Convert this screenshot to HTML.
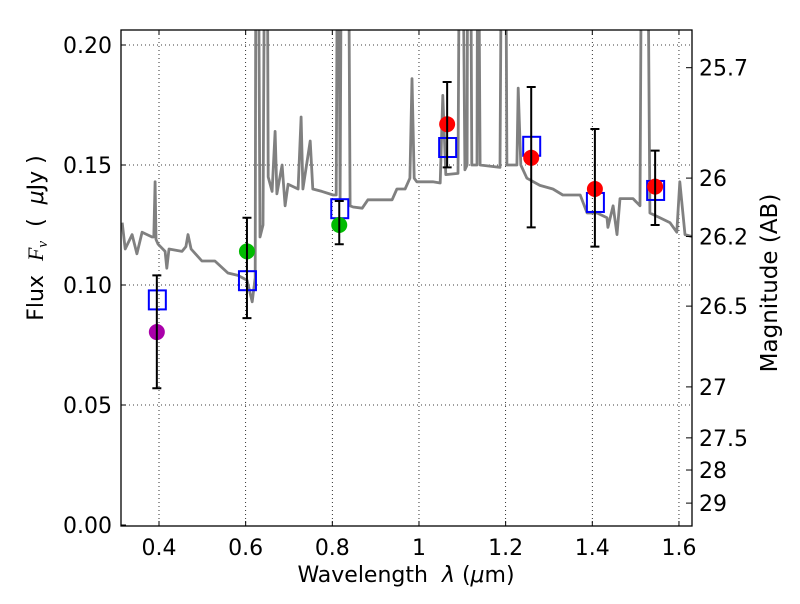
<!DOCTYPE html>
<html><head><meta charset="utf-8"><style>
body{margin:0;background:#fff;font-family:"DejaVu Sans","Liberation Sans",sans-serif;}
svg text{font-family:"DejaVu Sans","Liberation Sans",sans-serif;}
</style></head><body>
<svg id="chart" width="800" height="600" xmlns="http://www.w3.org/2000/svg">
<rect width="800" height="600" fill="#fff"/>
<defs><clipPath id="clip"><rect x="121" y="30" width="571" height="496"/></clipPath></defs>
<g id="grid"></g>
<g id="spec" clip-path="url(#clip)"></g>
<g id="marks"></g>
<rect x="121" y="30" width="571" height="496" fill="none" stroke="#000" stroke-width="1.3"/>
<g id="axes"></g>
<text x="406" y="582" font-size="22" text-anchor="middle">Wavelength&#160;&#160;<tspan font-style="italic">λ</tspan> (<tspan font-style="italic">μ</tspan>m)</text>
<text transform="translate(43,238) rotate(-90)" font-size="22" text-anchor="middle">Flux&#160;&#160;<tspan font-family="Liberation Serif" font-style="italic">F<tspan font-size="15" dy="4">ν</tspan></tspan><tspan dy="-4">&#160;&#160;(&#160;&#160;</tspan><tspan font-style="italic">μ</tspan>Jy )</text>
<text transform="translate(777,283) rotate(-90)" font-size="23" text-anchor="middle">Magnitude (AB)</text>
</svg>
<script>
const specLam=[0.315,0.322,0.338,0.349,0.361,0.384,0.388,0.391,0.393,0.398,0.414,0.418,0.423,0.453,0.462,0.467,0.474,0.499,0.529,0.559,0.582,0.603,0.615,0.622,0.624,0.628,0.633,0.640,0.645,0.649,0.652,0.661,0.668,0.672,0.684,0.691,0.698,0.721,0.728,0.732,0.749,0.755,0.776,0.802,0.809,0.813,0.818,0.822,0.829,0.836,0.841,0.848,0.869,0.882,0.915,0.938,0.949,0.968,0.979,0.984,0.989,0.995,1.032,1.049,1.055,1.062,1.090,1.095,1.099,1.106,1.111,1.113,1.118,1.122,1.134,1.136,1.141,1.187,1.192,1.199,1.203,1.226,1.229,1.235,1.249,1.279,1.309,1.332,1.372,1.388,1.411,1.434,1.436,1.448,1.457,1.464,1.494,1.510,1.515,1.526,1.533,1.556,1.579,1.595,1.602,1.614,1.633];
const specFlux=[0.126,0.115,0.121,0.113,0.122,0.120,0.120,0.143,0.119,0.117,0.114,0.107,0.115,0.114,0.116,0.121,0.115,0.110,0.110,0.105,0.104,0.102,0.093,0.103,0.3,0.3,0.120,0.125,0.3,0.3,0.145,0.139,0.164,0.138,0.150,0.133,0.142,0.140,0.170,0.140,0.160,0.140,0.139,0.1375,0.1375,0.3,0.136,0.3,0.3,0.3,0.133,0.1325,0.132,0.1355,0.1355,0.1355,0.140,0.140,0.1445,0.186,0.1445,0.143,0.143,0.1425,0.179,0.146,0.1465,0.3,0.3,0.148,0.150,0.3,0.3,0.150,0.150,0.3,0.150,0.149,0.3,0.3,0.150,0.150,0.182,0.150,0.1445,0.1415,0.140,0.1375,0.1375,0.130,0.130,0.128,0.124,0.133,0.121,0.136,0.136,0.133,0.3,0.3,0.130,0.128,0.126,0.122,0.143,0.121,0.120];
const obsLam=[0.395,0.603,0.816,1.065,1.259,1.406,1.545];
const obsFlux=[0.0804,0.114,0.125,0.167,0.153,0.140,0.141];
const obsColor=['#aa00aa','#00bb00','#00bb00','#ff0000','#ff0000','#ff0000','#ff0000'];
const errLo=[0.057,0.0862,0.117,0.149,0.124,0.116,0.125];
const errHi=[0.104,0.128,0.135,0.1846,0.1825,0.165,0.156];
const modelFlux=[0.094,0.102,0.132,0.1575,0.158,0.1346,0.1396];
const xTicks=[0.4,0.6,0.8,1.0,1.2,1.4,1.6];
const xTickLabels=['0.4','0.6','0.8','1','1.2','1.4','1.6'];
const yTicks=[0,0.05,0.10,0.15,0.20];
const yTickLabels=['0.00','0.05','0.10','0.15','0.20'];
const magTicks=[25.7,26,26.2,26.5,27,27.5,28,29];
const magLabels=['25.7','26','26.2','26.5','27','27.5','28','29'];

const NS='http://www.w3.org/2000/svg';
const X=l=>159+(l-0.4)*433.3;
const Y=f=>525-f*2400;
const magToFlux=m=>Math.pow(10,(23.9-m)/2.5);
function mk(parent,tag,attrs){const e=document.createElementNS(NS,tag);for(const k in attrs)e.setAttribute(k,attrs[k]);document.getElementById(parent).appendChild(e);return e;}
const grid='grid',axes='axes';
xTicks.forEach((t,i)=>{
  const g=mk(grid,'line',{x1:X(t),x2:X(t),y1:30,y2:526,stroke:'#000','stroke-width':0.8,'stroke-dasharray':'1,3'});
  
  
  const tk=mk(axes,'line',{x1:X(t),x2:X(t),y1:526,y2:521,stroke:'#000'});
  
  
  const tk2=mk(axes,'line',{x1:X(t),x2:X(t),y1:30,y2:35,stroke:'#000'});
  
  
  const tx=mk(axes,'text',{x:X(t),y:555,'font-size':22,'text-anchor':'middle'});
  tx.textContent=xTickLabels[i];
  
  
});
yTicks.forEach((t,i)=>{
  if(t>0){const g=mk(grid,'line',{x1:121,x2:692,y1:Y(t),y2:Y(t),stroke:'#000','stroke-width':0.8,'stroke-dasharray':'1,3'});
  
  }
  const tk=mk(axes,'line',{x1:121,x2:126,y1:Y(t),y2:Y(t),stroke:'#000'});
  
  
  const tx=mk(axes,'text',{x:112,y:Y(t)+8,'font-size':22,'text-anchor':'end'});
  tx.textContent=yTickLabels[i];
  
  
});
magTicks.forEach((m,i)=>{
  const f=magToFlux(m);
  const tk=mk(axes,'line',{x1:686,x2:692,y1:Y(f),y2:Y(f),stroke:'#000'});
  
  
  const tx=mk(axes,'text',{x:699,y:Y(f)+8,'font-size':22});
  tx.textContent=magLabels[i];
  
  
});
const pts=specLam.map((l,i)=>X(l).toFixed(1)+','+Y(specFlux[i]).toFixed(1)).join(' ');
const sp=mk('spec','polyline',{points:pts,fill:'none',stroke:'#808080','stroke-width':2.8,'stroke-linejoin':'round'});


obsLam.forEach((l,i)=>{
  const x=X(l);
  const sq=mk('marks','rect',{x:x-8,y:Y(modelFlux[i])-9,width:17,height:19,fill:'none',stroke:'#0000ff','stroke-width':2});
  
  
  const c=mk('marks','circle',{cx:x,cy:Y(obsFlux[i]),r:8,fill:obsColor[i]});
  
  
  const eb=mk('marks','path',{d:`M${x},${Y(errLo[i])}V${Y(errHi[i])}M${x-4.5},${Y(errLo[i])}h9M${x-4.5},${Y(errHi[i])}h9`,stroke:'#000','stroke-width':2,fill:'none'});
  
  
});
</script>
</body></html>
